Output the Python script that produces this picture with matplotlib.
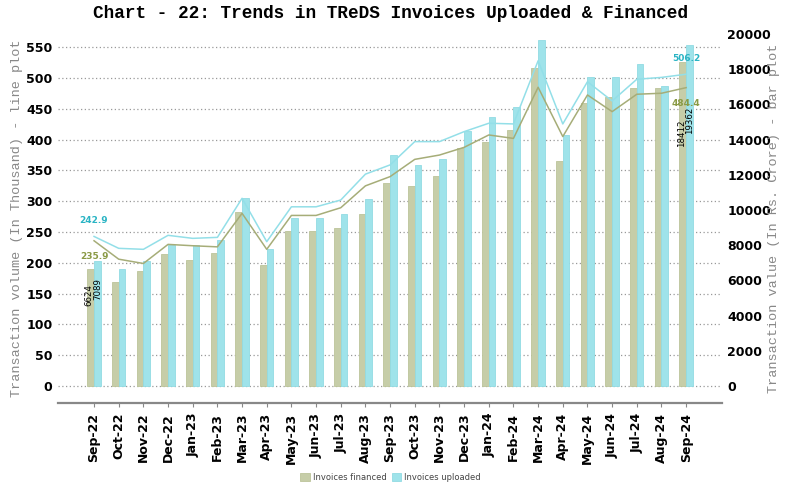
import matplotlib.pyplot as plt
import numpy as np

months = ['Sep-22', 'Oct-22', 'Nov-22', 'Dec-22', 'Jan-23', 'Feb-23', 'Mar-23', 'Apr-23',
          'May-23', 'Jun-23', 'Jul-23', 'Aug-23', 'Sep-23', 'Oct-23', 'Nov-23', 'Dec-23',
          'Jan-24', 'Feb-24', 'Mar-24', 'Apr-24', 'May-24', 'Jun-24', 'Jul-24', 'Aug-24', 'Sep-24']

# transaction value, Rs crore (bars, right axis)
fin_value = [6624, 5887, 6530, 7475, 7170, 7530, 9900, 6888, 8800, 8800, 8990, 9800, 11525,
             11355, 11925, 13495, 13855, 14518, 18040, 12775, 16085, 16420, 16940, 16940, 18412]
upl_value = [7089, 6640, 7080, 8025, 8025, 8290, 10655, 7780, 9520, 9520, 9800, 10650, 13115,
             12550, 12890, 14497, 15257, 15825, 19646, 14250, 17560, 17560, 18285, 17035, 19362]

# transaction volume, thousand (lines, left axis)
fin_volume = [235.9, 206, 199, 230, 227.8, 226, 280.4, 222, 277, 277, 289.5, 325, 340,
              368, 375, 387.5, 407.6, 402, 485, 405, 472.5, 445.5, 473.7, 475.3, 484.4]
upl_volume = [242.9, 223.6, 222, 244.7, 239.8, 241.4, 304.8, 234.4, 291, 291, 302, 344, 359,
              396.8, 396.8, 413, 426.6, 425.5, 528, 425.5, 494, 462.8, 498, 501, 506.2]

fin_bar = '#c6cda8'
upl_bar = '#9fe3ea'
fin_line = '#a6ad78'
upl_line = '#93dfe8'

x = np.arange(len(months))
w = 0.27

fig = plt.figure(figsize=(7.97, 4.91), dpi=100)
axb = fig.add_axes([0.0728, 0.179, 0.833, 0.77])   # bars (right scale)
axl = axb.twinx()                                  # lines (left scale)
axl.set_zorder(axb.get_zorder() + 1)
axl.patch.set_visible(False)

lo_l, hi_l = -27.6, 586
lo_r, hi_r = -965, 20500
axl.set_ylim(lo_l, hi_l)
axb.set_ylim(lo_r, hi_r)
axb.set_xlim(-1.46, 25.45)

# dotted grid at the volume ticks, drawn behind the bars
vol_ticks = np.arange(0, 551, 50)
for t in vol_ticks:
    yr = lo_r + (t - lo_l) / (hi_l - lo_l) * (hi_r - lo_r)
    axb.axhline(yr, color='#999999', linestyle=(0, (1, 2)), linewidth=0.9, zorder=0)

axb.bar(x - w / 2, fin_value, w, color=fin_bar, edgecolor='#bcc49a', linewidth=0.6,
        label='Invoices financed', zorder=2)
axb.bar(x + w / 2, upl_value, w, color=upl_bar, edgecolor='#92dbe3', linewidth=0.6,
        label='Invoices uploaded', zorder=2)

axl.plot(x, upl_volume, color=upl_line, linewidth=1.1)
axl.plot(x, fin_volume, color=fin_line, linewidth=1.1)

# labels at first and last points
for i in [0, len(months) - 1]:
    axl.annotate(f'{upl_volume[i]:.1f}', (x[i], upl_volume[i]), xytext=(0, 8),
                 textcoords='offset points', ha='center', va='bottom', fontsize=6.5,
                 color='#2ab4c4', fontweight='bold')
    axl.annotate(f'{fin_volume[i]:.1f}', (x[i], fin_volume[i]), xytext=(0, -8),
                 textcoords='offset points', ha='center', va='top', fontsize=6.5,
                 color='#8a9a45', fontweight='bold')
    axb.text(x[i] - 0.2, fin_value[i] * 0.78, str(fin_value[i]), rotation=90,
             ha='center', va='center', fontsize=6.2, zorder=3)
    axb.text(x[i] + 0.15, upl_value[i] * 0.78, str(upl_value[i]), rotation=90,
             ha='center', va='center', fontsize=6.2, zorder=3)

# axes styling
axl.yaxis.tick_left()
axl.yaxis.set_label_position('left')
axb.yaxis.tick_right()
axb.yaxis.set_label_position('right')
axl.set_yticks(vol_ticks)
axb.set_yticks(np.arange(0, 20001, 2000))
for a in (axl, axb):
    for s in ['top', 'left', 'right']:
        a.spines[s].set_visible(False)
    a.tick_params(axis='y', length=0, labelsize=9, pad=4)
    for lab in a.get_yticklabels():
        lab.set_fontweight('bold')
axl.spines['bottom'].set_visible(False)
axb.spines['bottom'].set_color('#888888')
axb.spines['bottom'].set_linewidth(1.6)

axb.set_xticks(x)
axb.set_xticklabels(months, rotation=90, fontsize=9, fontweight='bold')
axb.tick_params(axis='x', length=3, color='#888888', pad=4)

mono = 'Liberation Mono'
axl.set_ylabel('Transaction volume (In Thousand) - line plot', family=mono,
               fontsize=9.7, color='#888888')
axb.set_ylabel('Transaction value (In Rs. Crore) - bar plot', family=mono,
               fontsize=9.7, color='#888888')
axl.yaxis.set_label_coords(-0.053, 0.49)
axb.yaxis.set_label_coords(1.069, 0.49)
fig.suptitle('Chart - 22: Trends in TReDS Invoices Uploaded & Financed', family=mono,
             fontweight='bold', fontsize=12.8, x=0.49, y=0.99)

fig.legend(loc='center', bbox_to_anchor=(0.49, 0.027), ncol=2, frameon=False,
           fontsize=6, handlelength=1.1, handleheight=1.1, columnspacing=0.6,
           handletextpad=0.4, labelcolor='#444444')

plt.savefig('out.png', dpi=100)
